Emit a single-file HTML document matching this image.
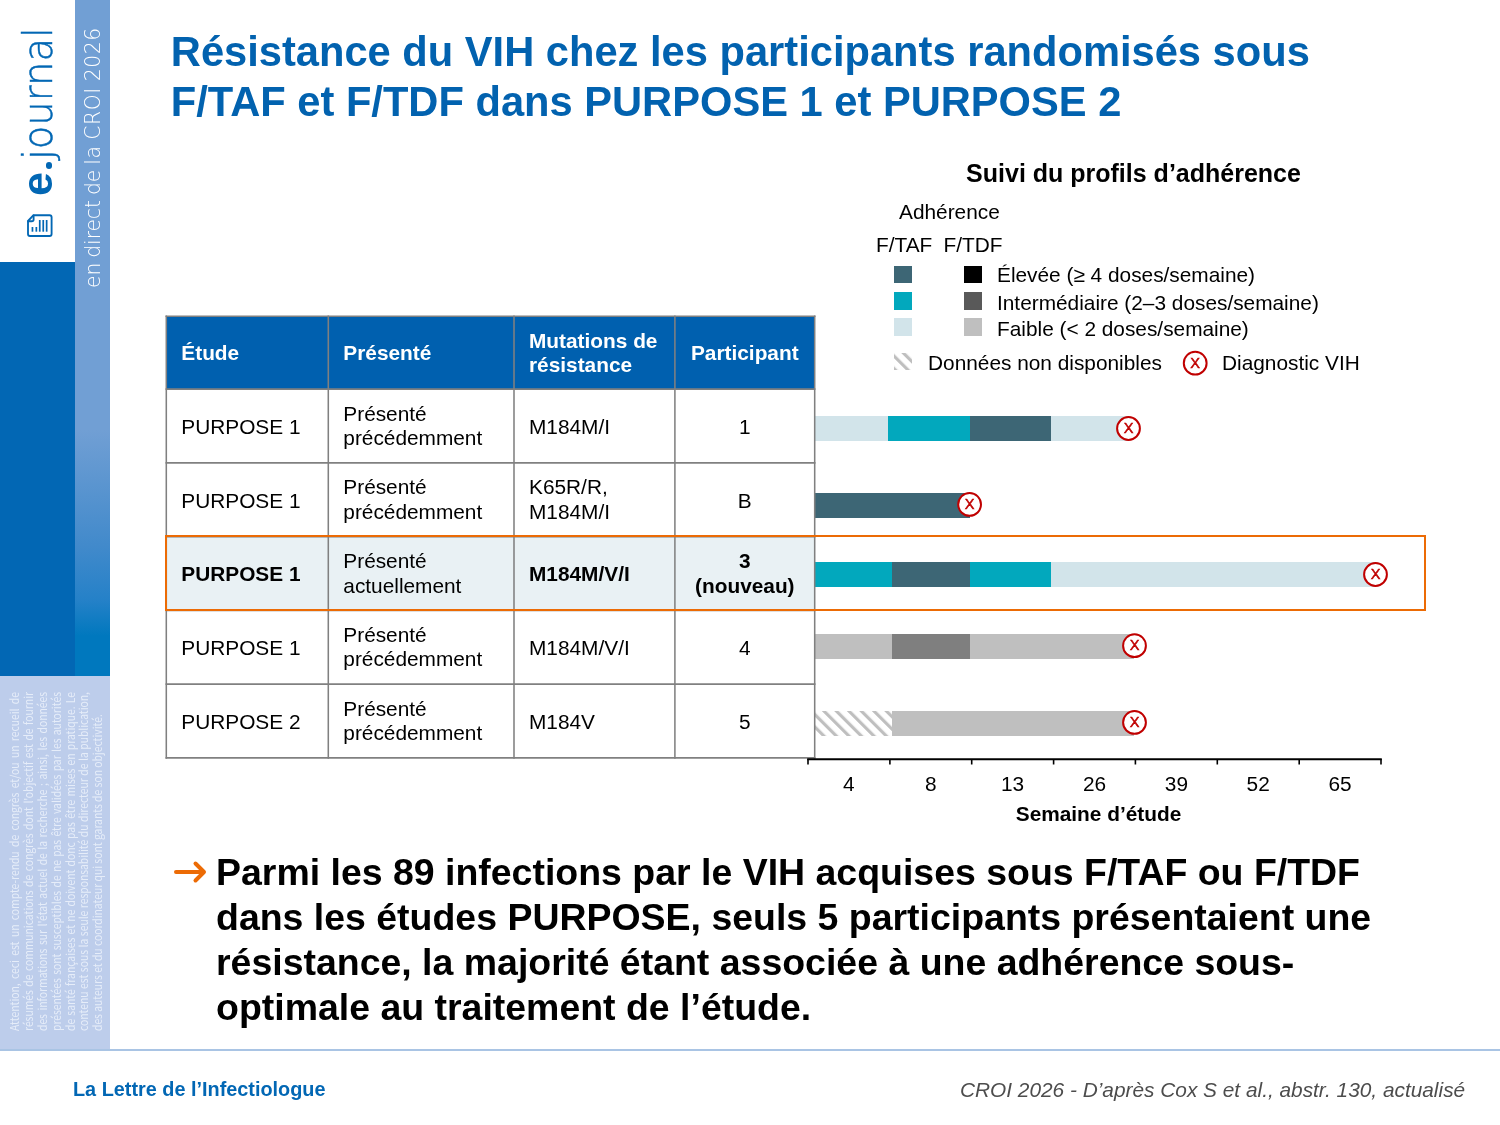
<!DOCTYPE html>
<html lang="fr">
<head>
<meta charset="utf-8">
<title>Résistance du VIH – PURPOSE 1 et PURPOSE 2</title>
<style>
html,body{margin:0;padding:0;background:#fff;}
body{width:1500px;height:1125px;position:relative;overflow:hidden;font-family:"Liberation Sans",Arial,Helvetica,sans-serif;color:#000;}
.abs{position:absolute;white-space:nowrap;}
#band{left:75px;top:0;width:35px;height:676px;background:linear-gradient(to bottom,#719fd4 0,#719fd4 430px,#428acb 545px,#2581c8 600px,#0078be 636px,#0078be 676px);}
#blue{left:0;top:262px;width:75px;height:414px;background:#0267b4;}
#pale{left:0;top:676px;width:110px;height:373px;background:#bdcdeb;}
#rule{left:0;top:1049px;width:1500px;height:2px;background:#a9c4e4;}
.rot{position:absolute;white-space:nowrap;transform-origin:0 0;transform:rotate(-90deg);}
#disc{left:8px;top:1031px;width:380.9px;transform:rotate(-90deg) scaleX(0.89);font-family:"Noto Sans CJK JP","DejaVu Sans Condensed","Liberation Sans",sans-serif;font-size:11.6px;line-height:13.9px;color:#e6edf9;}
#disc div{text-align:justify;text-align-last:justify;white-space:nowrap;height:13.9px;}
#disc div.last{text-align:left;text-align-last:left;}
#title{left:170.8px;top:27.2px;font-size:41.67px;line-height:49.7px;font-weight:bold;color:#0262af;}
#concl{left:216px;top:850px;font-size:37.46px;line-height:45.1px;font-weight:bold;color:#000;}
#lettre{left:73px;top:1076.8px;font-size:19.85px;line-height:24px;font-weight:bold;color:#0267b4;}
#source{left:960px;top:1078px;font-size:20.83px;line-height:24px;font-style:italic;color:#4d4d4d;}
svg text{font-family:"Liberation Sans",Arial,Helvetica,sans-serif;}
</style>
</head>
<body>
<!-- sidebar -->
<div class="abs" id="band"></div>
<div class="abs" id="blue"></div>
<div class="abs" id="pale"></div>
<div class="abs" id="rule"></div>

<div class="rot" id="ej-e" style="left:9px;top:196px;font-size:43px;line-height:56px;font-weight:bold;color:#0267b4;">e</div>
<div class="abs" id="ej-dot" style="left:45.5px;top:162.2px;width:6.8px;height:6.8px;border-radius:50%;background:#0267b4;color:transparent;font-size:2px;line-height:2px;overflow:hidden;">.</div>
<div class="rot" id="ej-j" style="left:9.5px;top:160px;transform:rotate(-90deg) scaleX(0.965);font-size:40px;line-height:56px;color:#0267b4;font-family:'DejaVu Sans Light','DejaVu Sans',sans-serif;font-weight:200;-webkit-text-stroke:0.45px #0267b4;">journal</div>
<div class="rot" id="direct" style="left:80px;top:288px;font-size:22px;line-height:26px;color:#fff;font-family:'DejaVu Sans Light','DejaVu Sans',sans-serif;font-weight:200;transform:rotate(-90deg) scaleX(0.9226);word-spacing:-1.3px;letter-spacing:-0.1px;">en direct de <span style="letter-spacing:0.62px;">la CROI 2026</span></div>

<svg class="abs" style="left:24px;top:211px;" width="32" height="30" viewBox="24 211 32 30">
  <g fill="none" stroke="#0267b4" stroke-width="1.85" stroke-linejoin="round" stroke-linecap="round">
    <path d="M33.5 215.2 H49.6 Q51.6 215.2 51.6 217.2 V234 Q51.6 236 49.6 236 H30 Q28 236 28 234 V221 Z"/>
    <path d="M33.6 215.4 V219.4 Q33.6 221.2 31.8 221.2 H28.2"/>
  </g>
  <g fill="#0267b4">
    <rect x="31.6" y="227" width="1.7" height="4.7"/>
    <rect x="35.5" y="227" width="1.7" height="4.7"/>
    <rect x="38.9" y="220" width="1.7" height="11.7"/>
    <rect x="42.4" y="220" width="1.7" height="11.7"/>
    <rect x="45.8" y="220" width="1.7" height="11.7"/>
  </g>
</svg>

<div class="rot" id="disc">
<div>Attention, ceci est un compte-rendu de congrès et/ou un recueil de</div>
<div>résumés de communications de congrès dont l'objectif est de fournir</div>
<div>des informations sur l'état actuel de la recherche ; ainsi, les données</div>
<div>présentées sont susceptibles de ne pas être validées par les autorités</div>
<div>de santé françaises et ne doivent donc pas être mises en pratique. Le</div>
<div>contenu est sous la seule responsabilité du directeur de la publication,</div>
<div class="last">des auteurs et du coordinateur qui sont garants de son objectivité.</div>
</div>

<!-- title -->
<div class="abs" id="title">Résistance du VIH chez les participants randomisés sous<br>F/TAF et F/TDF dans PURPOSE 1 et PURPOSE 2</div>

<svg class="abs" style="left:0;top:0;" width="1500" height="1125" viewBox="0 0 1500 1125">
<defs><pattern id="hatch" x="-1.3" y="0" width="8.84" height="8.84" patternUnits="userSpaceOnUse" patternTransform="rotate(-45)"><rect x="0" y="0" width="3.2" height="8.84" fill="#bfbfbf"/></pattern></defs>
<rect x="808" y="416" width="80" height="25" fill="#d2e4ea"/>
<rect x="888" y="416" width="82" height="25" fill="#02a8bd"/>
<rect x="970" y="416" width="81" height="25" fill="#3d6675"/>
<rect x="1051" y="416" width="77" height="25" fill="#d2e4ea"/>
<rect x="808" y="493" width="162" height="25" fill="#3d6675"/>
<rect x="808" y="562" width="84" height="25" fill="#02a8bd"/>
<rect x="892" y="562" width="78" height="25" fill="#3d6675"/>
<rect x="970" y="562" width="81" height="25" fill="#02a8bd"/>
<rect x="1051" y="562" width="324" height="25" fill="#d2e4ea"/>
<rect x="808" y="634" width="84" height="25" fill="#bfbfbf"/>
<rect x="892" y="634" width="78" height="25" fill="#7f7f7f"/>
<rect x="970" y="634" width="164" height="25" fill="#bfbfbf"/>
<rect x="808" y="711" width="84" height="25" fill="url(#hatch)"/>
<rect x="892" y="711" width="242" height="25" fill="#bfbfbf"/>
<rect x="166.3" y="316.2" width="648.4000000000001" height="441.65000000000003" fill="#fff"/>
<rect x="166.3" y="316.2" width="648.4000000000001" height="72.90000000000003" fill="#0060af"/>
<rect x="166.3" y="536.6" width="648.4000000000001" height="73.75" fill="#e9f1f4"/>
<g stroke="#808080" stroke-width="1.55" fill="none">
<line x1="166.3" y1="315.425" x2="166.3" y2="758.625"/>
<line x1="328.3" y1="315.425" x2="328.3" y2="758.625"/>
<line x1="514" y1="315.425" x2="514" y2="758.625"/>
<line x1="674.9" y1="315.425" x2="674.9" y2="758.625"/>
<line x1="814.7" y1="315.425" x2="814.7" y2="758.625"/>
<line x1="165.525" y1="316.2" x2="815.475" y2="316.2"/>
<line x1="165.525" y1="389.1" x2="815.475" y2="389.1"/>
<line x1="165.525" y1="462.85" x2="815.475" y2="462.85"/>
<line x1="165.525" y1="536.6" x2="815.475" y2="536.6"/>
<line x1="165.525" y1="610.35" x2="815.475" y2="610.35"/>
<line x1="165.525" y1="684.1" x2="815.475" y2="684.1"/>
<line x1="165.525" y1="757.85" x2="815.475" y2="757.85"/>
</g>
<rect x="166" y="536" width="1259" height="74" fill="none" stroke="#ec6b05" stroke-width="2"/>
<text x="181.3" y="360.1" font-size="20.83" font-weight="bold" fill="#fff">Étude</text>
<text x="343.3" y="360.1" font-size="20.83" font-weight="bold" fill="#fff">Présenté</text>
<text x="529" y="347.8" font-size="20.83" font-weight="bold" fill="#fff">Mutations de</text>
<text x="529" y="372.3" font-size="20.83" font-weight="bold" fill="#fff">résistance</text>
<text x="744.8" y="360.1" font-size="20.83" font-weight="bold" text-anchor="middle" fill="#fff">Participant</text>
<text x="181.3" y="433.8" font-size="20.83" fill="#000">PURPOSE 1</text>
<text x="343.3" y="420.6" font-size="20.83" fill="#000">Présenté</text>
<text x="343.3" y="445.1" font-size="20.83" fill="#000">précédemment</text>
<text x="529" y="433.8" font-size="20.83" fill="#000">M184M/I</text>
<text x="744.8" y="433.8" font-size="20.83" text-anchor="middle" fill="#000">1</text>
<text x="181.3" y="507.55" font-size="20.83" fill="#000">PURPOSE 1</text>
<text x="343.3" y="494.35" font-size="20.83" fill="#000">Présenté</text>
<text x="343.3" y="518.85" font-size="20.83" fill="#000">précédemment</text>
<text x="529" y="494.35" font-size="20.83" fill="#000">K65R/R,</text>
<text x="529" y="518.85" font-size="20.83" fill="#000">M184M/I</text>
<text x="744.8" y="507.55" font-size="20.83" text-anchor="middle" fill="#000">B</text>
<text x="181.3" y="581.3" font-size="20.83" font-weight="bold" fill="#000">PURPOSE 1</text>
<text x="343.3" y="568.1" font-size="20.83" fill="#000">Présenté</text>
<text x="343.3" y="592.6" font-size="20.83" fill="#000">actuellement</text>
<text x="529" y="581.3" font-size="20.83" font-weight="bold" fill="#000">M184M/V/I</text>
<text x="744.8" y="568.1" font-size="20.83" font-weight="bold" text-anchor="middle" fill="#000">3</text>
<text x="744.8" y="592.6" font-size="20.83" font-weight="bold" text-anchor="middle" fill="#000">(nouveau)</text>
<text x="181.3" y="655.05" font-size="20.83" fill="#000">PURPOSE 1</text>
<text x="343.3" y="641.85" font-size="20.83" fill="#000">Présenté</text>
<text x="343.3" y="666.35" font-size="20.83" fill="#000">précédemment</text>
<text x="529" y="655.05" font-size="20.83" fill="#000">M184M/V/I</text>
<text x="744.8" y="655.05" font-size="20.83" text-anchor="middle" fill="#000">4</text>
<text x="181.3" y="728.8" font-size="20.83" fill="#000">PURPOSE 2</text>
<text x="343.3" y="715.6" font-size="20.83" fill="#000">Présenté</text>
<text x="343.3" y="740.1" font-size="20.83" fill="#000">précédemment</text>
<text x="529" y="728.8" font-size="20.83" fill="#000">M184V</text>
<text x="744.8" y="728.8" font-size="20.83" text-anchor="middle" fill="#000">5</text>
<g stroke="#000" fill="none">
<line x1="807.2" y1="759.3" x2="1381.8" y2="759.3" stroke-width="2"/>
<line x1="808.0" y1="759" x2="808.0" y2="764.5" stroke-width="1.6"/>
<line x1="889.9" y1="759" x2="889.9" y2="764.5" stroke-width="1.6"/>
<line x1="971.7" y1="759" x2="971.7" y2="764.5" stroke-width="1.6"/>
<line x1="1053.6" y1="759" x2="1053.6" y2="764.5" stroke-width="1.6"/>
<line x1="1135.4" y1="759" x2="1135.4" y2="764.5" stroke-width="1.6"/>
<line x1="1217.3" y1="759" x2="1217.3" y2="764.5" stroke-width="1.6"/>
<line x1="1299.2" y1="759" x2="1299.2" y2="764.5" stroke-width="1.6"/>
<line x1="1381.0" y1="759" x2="1381.0" y2="764.5" stroke-width="1.6"/>
</g>
<text x="848.9" y="790.6" font-size="20.83" text-anchor="middle" fill="#000">4</text>
<text x="930.8" y="790.6" font-size="20.83" text-anchor="middle" fill="#000">8</text>
<text x="1012.6" y="790.6" font-size="20.83" text-anchor="middle" fill="#000">13</text>
<text x="1094.5" y="790.6" font-size="20.83" text-anchor="middle" fill="#000">26</text>
<text x="1176.4" y="790.6" font-size="20.83" text-anchor="middle" fill="#000">39</text>
<text x="1258.2" y="790.6" font-size="20.83" text-anchor="middle" fill="#000">52</text>
<text x="1340.1" y="790.6" font-size="20.83" text-anchor="middle" fill="#000">65</text>
<text x="1098.5" y="821" font-size="20.83" font-weight="bold" text-anchor="middle" fill="#000">Semaine d’étude</text>
<circle cx="1128.5" cy="428.5" r="11.4" fill="#fff" stroke="#c00000" stroke-width="2"/>
<text x="1128.5" y="432.85" font-size="14.58" text-anchor="middle" fill="#c00000" stroke="#c00000" stroke-width="0.45">X</text>
<circle cx="969.6" cy="504.4" r="11.4" fill="#fff" stroke="#c00000" stroke-width="2"/>
<text x="969.6" y="508.75" font-size="14.58" text-anchor="middle" fill="#c00000" stroke="#c00000" stroke-width="0.45">X</text>
<circle cx="1375.5" cy="574.5" r="11.4" fill="#fff" stroke="#c00000" stroke-width="2"/>
<text x="1375.5" y="578.85" font-size="14.58" text-anchor="middle" fill="#c00000" stroke="#c00000" stroke-width="0.45">X</text>
<circle cx="1134.5" cy="645.7" r="11.4" fill="#fff" stroke="#c00000" stroke-width="2"/>
<text x="1134.5" y="650.05" font-size="14.58" text-anchor="middle" fill="#c00000" stroke="#c00000" stroke-width="0.45">X</text>
<circle cx="1134.5" cy="722.4" r="11.4" fill="#fff" stroke="#c00000" stroke-width="2"/>
<text x="1134.5" y="726.75" font-size="14.58" text-anchor="middle" fill="#c00000" stroke="#c00000" stroke-width="0.45">X</text>
<circle cx="1195.2" cy="363.2" r="11.4" fill="#fff" stroke="#c00000" stroke-width="2"/>
<text x="1195.2" y="367.55" font-size="14.58" text-anchor="middle" fill="#c00000" stroke="#c00000" stroke-width="0.45">X</text>
<text x="1133.5" y="182" font-size="25" font-weight="bold" text-anchor="middle" fill="#000">Suivi du profils d’adhérence</text>
<text x="899" y="218.7" font-size="20.83" fill="#000">Adhérence</text>
<text x="876" y="252.0" font-size="20.83" fill="#000">F/TAF</text>
<text x="943.5" y="252.0" font-size="20.83" fill="#000">F/TDF</text>
<rect x="894" y="266" width="18" height="17" fill="#3d6675"/>
<rect x="964" y="266" width="18" height="17" fill="#000"/>
<text x="997" y="281.9" font-size="20.83" fill="#000">Élevée (≥ 4 doses/semaine)</text>
<rect x="894" y="292" width="18" height="18" fill="#02a8bd"/>
<rect x="964" y="292" width="18" height="18" fill="#595959"/>
<text x="997" y="309.7" font-size="20.83" fill="#000">Intermédiaire (2–3 doses/semaine)</text>
<rect x="894" y="318" width="18" height="18" fill="#d2e4ea"/>
<rect x="964" y="318" width="18" height="18" fill="#bfbfbf"/>
<text x="997" y="335.6" font-size="20.83" fill="#000">Faible (&lt; 2 doses/semaine)</text>
<rect x="894" y="353" width="18" height="17" fill="url(#hatch)"/>
<text x="928" y="369.8" font-size="20.83" fill="#000">Données non disponibles</text>
<text x="1222" y="369.8" font-size="20.83" fill="#000">Diagnostic VIH</text>
</svg>

<!-- conclusion -->
<svg class="abs" style="left:170px;top:856px;" width="40" height="32" viewBox="170 856 40 32">
  <path d="M176 872 H203 M195.5 863.5 L204 872 L195.5 880.5" fill="none" stroke="#ec6b05" stroke-width="4" stroke-linecap="round" stroke-linejoin="round"/>
</svg>
<div class="abs" id="concl">Parmi les 89 infections par le VIH acquises sous F/TAF ou F/TDF<br>dans les études PURPOSE, seuls 5 participants présentaient une<br>résistance, la majorité étant associée à une adhérence sous-<br>optimale au traitement de l’étude.</div>

<!-- footer -->
<div class="abs" id="lettre">La Lettre de l’Infectiologue</div>
<div class="abs" id="source">CROI 2026 - D’après Cox S et al., abstr. 130, actualisé</div>
</body>
</html>
